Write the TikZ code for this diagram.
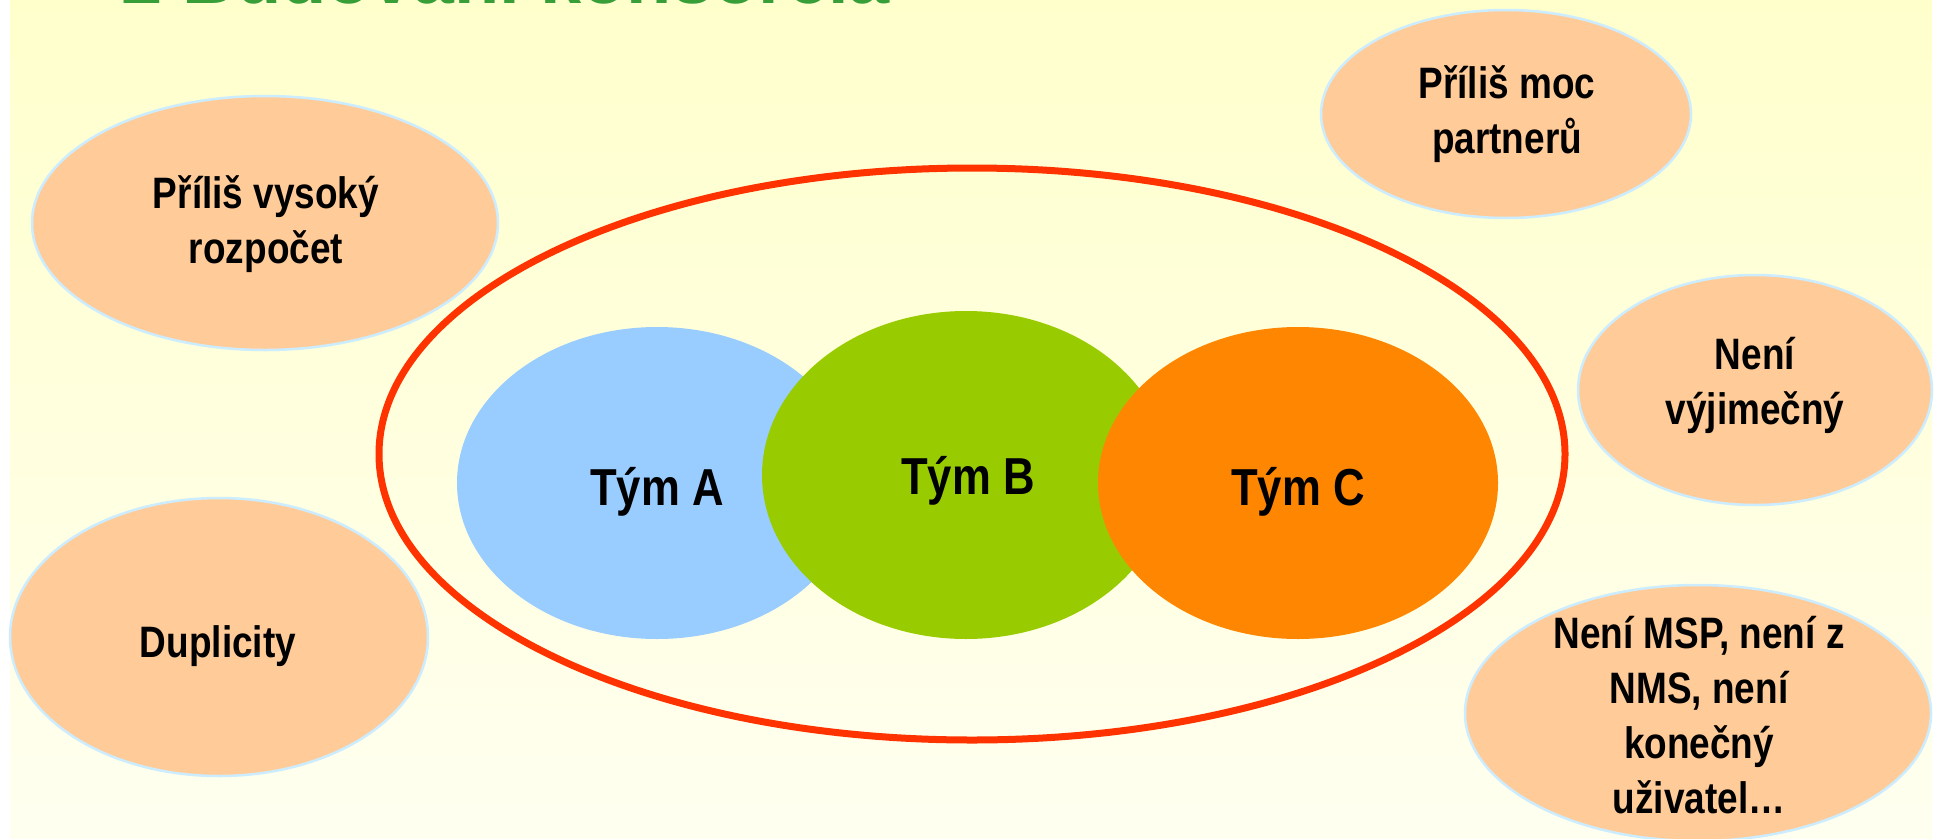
\documentclass[tikz,border=0pt]{standalone}
\usepackage{fontspec}
\setmainfont{Liberation Sans}
\newfontfamily\condfont[FakeStretch=0.84]{Liberation Sans}
\usetikzlibrary{shapes.geometric}
\definecolor{bgtop}{RGB}{255,255,204}
\definecolor{bgbot}{RGB}{255,255,240}
\definecolor{titlegreen}{RGB}{56,158,56}
\definecolor{peach}{RGB}{255,204,153}
\definecolor{ideaedge}{RGB}{204,236,255}
\definecolor{redline}{RGB}{255,51,0}
\definecolor{teamA}{RGB}{153,204,255}
\definecolor{teamB}{RGB}{153,204,0}
\definecolor{teamC}{RGB}{255,134,0}
\tikzset{
  idea/.style={ellipse, fill=peach, draw=ideaedge, line width=2.5pt, inner sep=0},
  team/.style={ellipse, inner sep=0},
  lbl/.style={font=\condfont\bfseries\fontsize{44}{55}\selectfont, align=center, inner sep=0, text=black},
  teamlbl/.style={font=\condfont\bfseries\fontsize{52}{60}\selectfont, inner sep=0, anchor=base, text=black},
}
\begin{document}
\begin{tikzpicture}[x=1pt,y=-1pt]
\useasboundingbox (0,0) rectangle (1934,838);
\clip (0,0) rectangle (1934,838);
\fill[white] (0,0) rectangle (1934,838);
\shade[top color=bgtop,bottom color=bgbot] (10,0) rectangle (1932,838);

\node[anchor=base west, text=titlegreen, font=\bfseries\fontsize{74}{80}\selectfont, inner sep=0] (title) at (121,3.5) {2 Budování konsorcia};

% outer red ellipse
\node[ellipse, draw=redline, line width=7pt, minimum width=1186pt, minimum height=572pt, inner sep=0] (outer) at (972,454) {};

% teams
\node[team, fill=teamA, minimum width=400pt, minimum height=312pt] (A) at (657,483) {};
\node[team, fill=teamB, minimum width=408pt, minimum height=328pt] (B) at (966,475) {};
\node[team, fill=teamC, minimum width=400pt, minimum height=312pt] (C) at (1298,483) {};
\node[teamlbl] (tA) at (657,505) {Tým A};
\node[teamlbl] (tB) at (968,494) {Tým B};
\node[teamlbl] (tC) at (1298,505) {Tým C};

% ideas
\node[idea, minimum width=466pt, minimum height=254pt] (e1) at (265,223) {};
\node[lbl] (t1) at (266,224) {Příliš vysoký\\rozpočet};

\node[idea, minimum width=418pt, minimum height=278pt] (e2) at (219,637) {};
\node[lbl, anchor=base] (t2) at (218,657) {Duplicity};

\node[idea, minimum width=370pt, minimum height=208pt] (e3) at (1506,114) {};
\node[lbl] (t3) at (1507,114) {Příliš moc\\partnerů};

\node[idea, minimum width=354pt, minimum height=230pt] (e4) at (1755,390) {};
\node[lbl] (t4) at (1755,385) {Není\\výjimečný};

\node[idea, minimum width=466pt, minimum height=256pt] (e5) at (1698,713) {};
\node[lbl] (t5) at (1699,715) {Není MSP, není z\\NMS, není\\konečný\\uživatel…};
\end{tikzpicture}
\end{document}
